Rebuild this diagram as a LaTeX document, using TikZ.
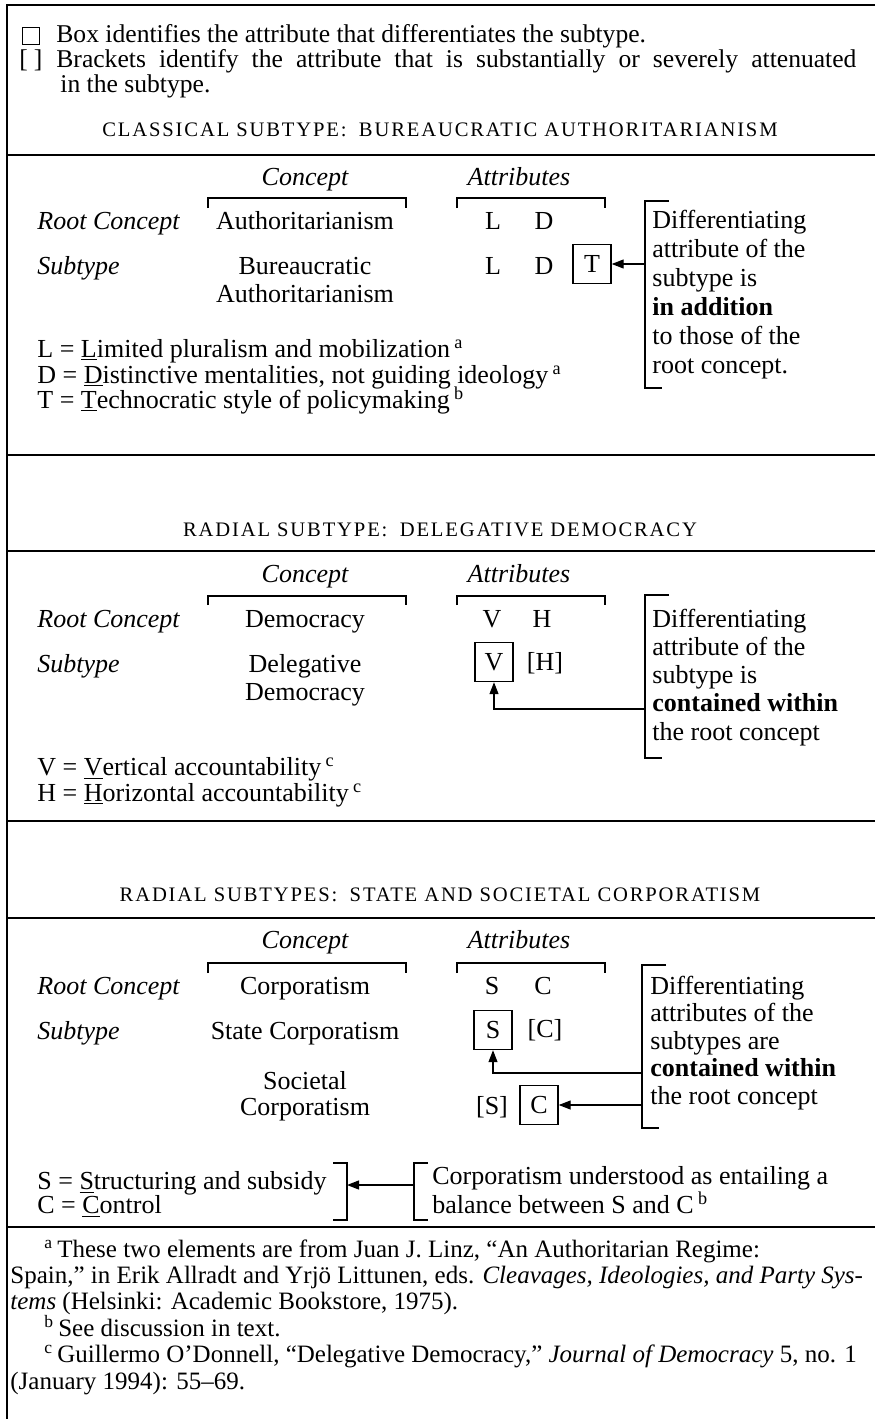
\documentclass[tikz,border=0pt]{standalone}
\usepackage{fontspec}
\setmainfont{Liberation Serif}
\newfontfamily\capsfont[LetterSpace=9]{Liberation Serif}
\usetikzlibrary{arrows.meta}

\newcommand\mainsize{\fontsize{13}{13}\selectfont}
\newcommand\legsize{\fontsize{12.8}{12.5}\selectfont}
\newcommand\footsize{\fontsize{12.5}{13.2}\selectfont}

\tikzset{
  every node/.style={inner sep=0pt, font=\mainsize},
  lbl/.style={anchor=base west},
  mid/.style={anchor=base},
  rowname/.style={anchor=base west, font=\mainsize\itshape},
  colhead/.style={anchor=base, font=\mainsize\itshape},
  hdr/.style={anchor=base, font=\capsfont\fontsize{10.3}{12}\selectfont},
  legbox/.style={draw, line width=0.7pt, minimum size=8.5pt},
  attbox/.style={draw, line width=0.7pt, minimum width=19pt, minimum height=19.5pt},
  % multi-line nodes are anchored at the baseline of their last line
  note/.style={anchor=base west, align=left},
  brk/.style={line width=0.6pt},
  rule/.style={line width=1pt},
  arr/.style={-{Triangle[length=6pt,width=4.5pt]}, line width=0.6pt},
}

\begin{document}
\begin{tikzpicture}[x=0.5pt, y=-0.5pt]
  \useasboundingbox (0,0) rectangle (875,1419);
  % frame
  \draw[rule] (875,5) -- (7,5) -- (7,1419);
  \foreach \y in {155,455,551,821,918,1227}
    \draw[rule] (7,\y) -- (875,\y);

  % legend
  \node[legbox] (boxkey) at (31,36) {};
  \node[lbl, font=\legsize] (boxtxt) at (56,42) {Box identifies the attribute that differentiates the subtype.};
  \node[mid, font=\legsize] (brkkey) at (31,67) {[\hspace{3pt}]};
  \node[note, font=\legsize] (brktxt) at (56,92) {\makebox[400pt][s]{Brackets identify the attribute that is substantially or severely attenuated}\\\hspace*{2pt}in the subtype.};

  % classical subtype
  \node[hdr] (hdrA) at (440,136) {CLASSICAL SUBTYPE:\hspace{0.6em}BUREAUCRATIC AUTHORITARIANISM};
  \node[colhead] (conA) at (305,185) {Concept};
  \node[colhead] (attA) at (519,185) {Attributes};
  \draw[brk] (208,208) |- (406,198) -- (406,208);
  \draw[brk] (457,208) |- (605,198) -- (605,208);
  \node[rowname] (rootA) at (37,229) {Root Concept};
  \node[rowname] (subA) at (37,274) {Subtype};
  \node[mid] (rcA) at (305,229) {Authoritarianism};
  \node[mid] (scA) at (305,274) {Bureaucratic};
  \node[mid] (scAb) at (305,302) {Authoritarianism};
  \node[mid] (rLA) at (493,229) {L};
  \node[mid] (rDA) at (544,229) {D};
  \node[mid] (sLA) at (493,274) {L};
  \node[mid] (sDA) at (544,274) {D};
  \node[attbox] (sTA) at (592,264) {T};
  \node[note, font=\fontsize{13}{14.5}\selectfont] (noteA) at (652,373) {Differentiating\\attribute of the\\subtype is\\\textbf{in addition}\\to those of the\\root concept.};
  \draw[brk] (669,201) -| (645,388) -- (662,388);
  \coordinate (brA) at (645,264);
  \draw[arr] (brA) -- (sTA.east);
  \node[lbl] (keyL) at (37,357) {L = \underline{L}imited pluralism and mobilization\,\textsuperscript{a}};
  \node[lbl] (keyD) at (37,383) {D = \underline{D}istinctive mentalities, not guiding ideology\,\textsuperscript{a}};
  \node[lbl] (keyT) at (37,408) {T = \underline{T}echnocratic style of policymaking\,\textsuperscript{b}};

  % delegative democracy
  \node[hdr] (hdrB) at (440,536) {RADIAL SUBTYPE:\hspace{0.6em}DELEGATIVE DEMOCRACY};
  \node[colhead] (conB) at (305,582) {Concept};
  \node[colhead] (attB) at (519,582) {Attributes};
  \draw[brk] (208,605) |- (406,596) -- (406,605);
  \draw[brk] (457,605) |- (605,596) -- (605,605);
  \node[rowname] (rootB) at (37,627) {Root Concept};
  \node[rowname] (subB) at (37,672) {Subtype};
  \node[mid] (rcB) at (305,627) {Democracy};
  \node[mid] (scB) at (305,672) {Delegative};
  \node[mid] (scBb) at (305,700) {Democracy};
  \node[mid] (rVB) at (492,627) {V};
  \node[mid] (rHB) at (542,627) {H};
  \node[attbox] (sVB) at (494,662) {V};
  \node[mid] (sHB) at (545,670) {[H]};
  \node[note, font=\fontsize{13}{14.1}\selectfont] (noteB) at (652,740) {Differentiating\\attribute of the\\subtype is\\\textbf{contained within}\\the root concept};
  \draw[brk] (669,595) -| (645,758) -- (662,758);
  \coordinate (brB) at (645,709);
  \draw[arr] (brB) -| (sVB.south);
  \node[lbl] (keyV) at (37,775) {V = \underline{V}ertical accountability\,\textsuperscript{c}};
  \node[lbl] (keyH) at (37,801) {H = \underline{H}orizontal accountability\,\textsuperscript{c}};

  % corporatism
  \node[hdr] (hdrC) at (440,901) {RADIAL SUBTYPES:\hspace{0.6em}STATE AND SOCIETAL CORPORATISM};
  \node[colhead] (conC) at (305,948) {Concept};
  \node[colhead] (attC) at (519,948) {Attributes};
  \draw[brk] (208,973) |- (406,963) -- (406,973);
  \draw[brk] (457,973) |- (605,963) -- (605,973);
  \node[rowname] (rootC) at (37,994) {Root Concept};
  \node[rowname] (subC) at (37,1039) {Subtype};
  \node[mid] (rcC) at (305,994) {Corporatism};
  \node[mid] (scC) at (305,1039) {State Corporatism};
  \node[mid] (soC) at (305,1089) {Societal};
  \node[mid] (soCb) at (305,1115) {Corporatism};
  \node[mid] (rSC) at (492,994) {S};
  \node[mid] (rCC) at (543,994) {C};
  \node[attbox] (sSC) at (493,1030) {S};
  \node[mid] (sCC) at (545,1037) {[C]};
  \node[mid] (oSC) at (492,1114) {[S]};
  \node[attbox] (oCC) at (539,1105) {C};
  \node[note, font=\fontsize{13}{13.75}\selectfont] (noteC) at (650,1104) {Differentiating\\attributes of the\\subtypes are\\\textbf{contained within}\\the root concept};
  \draw[brk] (666,965) -| (642,1128) -- (659,1128);
  \coordinate (brC) at (642,1073);
  \coordinate (brCb) at (642,1105);
  \draw[arr] (brC) -| (sSC.south);
  \draw[arr] (brCb) -- (oCC.east);
  \node[lbl] (keyS) at (37,1189) {S = \underline{S}tructuring and subsidy};
  \node[lbl] (keyC) at (37,1213) {C = \underline{C}ontrol};
  \draw[brk] (333,1163) -| (347,1220) -- (333,1220);
  \node[note, font=\fontsize{13}{12}\selectfont] (noteD) at (432,1213) {Corporatism understood as entailing a\\balance between S and C\,\textsuperscript{b}};
  \draw[brk] (428,1163) -| (414,1220) -- (428,1220);
  \coordinate (brD) at (414,1185);
  \coordinate (brS) at (347,1185);
  \draw[arr] (brD) -- (brS);

  % footnotes
  \node[note, font=\footsize] (fn) at (10,1389) {\hspace*{17pt}\textsuperscript{a}\,These two elements are from Juan J. Linz, “An Authoritarian Regime:\\Spain,” in Erik Allradt and Yrjö Littunen, eds. \textit{Cleavages, Ideologies, and Party Sys-}\\\textit{tems} (Helsinki: Academic Bookstore, 1975).\\\hspace*{17pt}\textsuperscript{b}\,See discussion in text.\\\hspace*{17pt}\textsuperscript{c}\,Guillermo O’Donnell, “Delegative Democracy,” \textit{Journal of Democracy} 5, no. 1\\(January 1994): 55–69.};
\end{tikzpicture}
\end{document}
